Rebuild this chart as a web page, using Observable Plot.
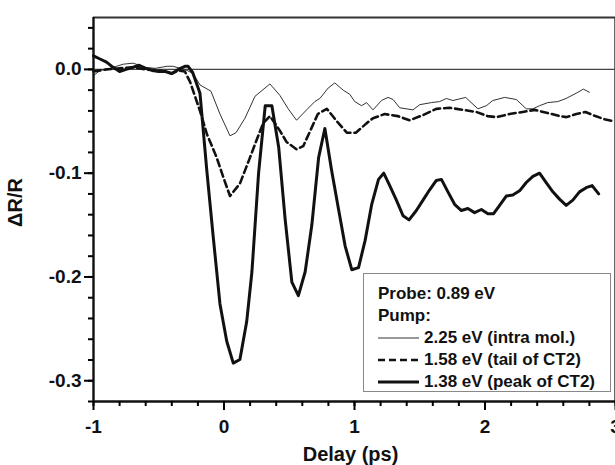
<!DOCTYPE html>
<html>
<head>
<meta charset="utf-8">
<script src="https://cdn.jsdelivr.net/npm/d3@7"></script>
<script src="https://cdn.jsdelivr.net/npm/@observablehq/plot@0.6"></script>
<style>
  html, body { margin: 0; padding: 0; background: #fff; }
  #wrap { position: relative; width: 615px; height: 465px; overflow: hidden; font-family: "Liberation Sans", Arial, sans-serif; }
  #legend { position: absolute; left: 363px; top: 273px; width: 246px; height: 117px; border: 1px solid #888; background: #fff;
            font-weight: bold; font-size: 17px; color: #111; padding: 0; box-sizing: content-box; }
  .row { position: absolute; left: 14px; height: 22px; line-height: 22px; white-space: nowrap; display: flex; align-items: center; }
  .row svg { margin-right: 5px; }
</style>
</head>
<body>
<div id="wrap"></div>
<script>
// ---- data ----
const thinDelay = [-1.0,-0.95,-0.872,-0.773,-0.696,-0.604,-0.528,-0.436,-0.39,-0.337,-0.283,-0.237,-0.184,-0.10,-0.031,0.046,0.092,0.161,0.237,0.352,0.428,0.492,0.556,0.633,0.696,0.735,0.798,0.849,0.913,0.964,1.002,1.054,1.092,1.142,1.207,1.257,1.295,1.347,1.448,1.50,1.589,1.653,1.704,1.754,1.852,1.946,2.01,2.06,2.15,2.24,2.316,2.367,2.418,2.481,2.558,2.622,2.698,2.754,2.80];
const thinValue = [-0.006,-0.001,0.001,0.005,0.006,0.002,0.001,0.003,0.003,0.001,-0.001,-0.004,-0.015,-0.021,-0.043,-0.064,-0.061,-0.047,-0.026,-0.014,-0.025,-0.038,-0.049,-0.039,-0.031,-0.028,-0.018,-0.013,-0.020,-0.024,-0.031,-0.035,-0.032,-0.039,-0.030,-0.027,-0.029,-0.037,-0.039,-0.034,-0.032,-0.031,-0.028,-0.030,-0.027,-0.038,-0.035,-0.030,-0.027,-0.029,-0.038,-0.038,-0.035,-0.032,-0.031,-0.028,-0.023,-0.019,-0.022];

const dashedDelay = [-1.0,-0.9,-0.8,-0.7,-0.6,-0.5,-0.45,-0.4,-0.35,-0.3,-0.26,-0.184,-0.132,-0.056,-0.005,0.046,0.122,0.199,0.25,0.30,0.352,0.428,0.48,0.556,0.607,0.658,0.719,0.788,0.865,0.941,1.01,1.092,1.142,1.232,1.331,1.423,1.525,1.627,1.729,1.831,1.933,2.02,2.089,2.188,2.29,2.38,2.479,2.571,2.624,2.70,2.77,2.846,2.915,2.984];
const dashedValue = [-0.002,0.0,0.001,0.002,0.0,-0.001,-0.002,-0.004,-0.001,-0.002,-0.012,-0.04,-0.062,-0.085,-0.104,-0.122,-0.110,-0.085,-0.068,-0.052,-0.045,-0.059,-0.070,-0.077,-0.074,-0.06,-0.043,-0.038,-0.050,-0.061,-0.061,-0.052,-0.047,-0.043,-0.045,-0.049,-0.044,-0.038,-0.037,-0.039,-0.041,-0.045,-0.046,-0.043,-0.041,-0.039,-0.042,-0.045,-0.046,-0.043,-0.041,-0.045,-0.048,-0.050];

const thickDelay = [-1.00,-0.95,-0.90,-0.85,-0.80,-0.75,-0.70,-0.65,-0.60,-0.55,-0.50,-0.45,-0.40,-0.35,-0.30,-0.275,-0.24,-0.184,-0.132,-0.082,-0.031,0.021,0.071,0.122,0.174,0.214,0.265,0.316,0.367,0.419,0.469,0.52,0.57,0.622,0.673,0.725,0.773,0.824,0.878,0.928,0.979,1.031,1.081,1.132,1.184,1.224,1.27,1.321,1.372,1.418,1.474,1.525,1.576,1.627,1.666,1.716,1.767,1.819,1.869,1.92,1.972,2.022,2.066,2.112,2.163,2.213,2.265,2.316,2.367,2.418,2.469,2.52,2.571,2.622,2.673,2.724,2.775,2.821,2.871];
const thickValue = [0.013,0.010,0.007,0.002,-0.002,0.000,0.002,0.004,0.001,-0.001,-0.002,-0.002,-0.004,0.000,0.003,0.003,-0.003,-0.023,-0.097,-0.162,-0.226,-0.262,-0.283,-0.2795,-0.243,-0.195,-0.10,-0.035,-0.035,-0.075,-0.145,-0.205,-0.218,-0.195,-0.15,-0.085,-0.057,-0.097,-0.135,-0.17,-0.193,-0.191,-0.165,-0.13,-0.106,-0.100,-0.112,-0.126,-0.141,-0.145,-0.136,-0.126,-0.116,-0.107,-0.106,-0.118,-0.130,-0.136,-0.134,-0.138,-0.135,-0.139,-0.139,-0.131,-0.122,-0.121,-0.117,-0.109,-0.103,-0.100,-0.109,-0.118,-0.125,-0.131,-0.126,-0.118,-0.114,-0.112,-0.120];

const xMajorTicks = [-1, 0, 1, 2, 3];
const yMajorTicks = [0, -0.1, -0.2, -0.3];
const xLabel = "Delay (ps)";
const yLabel = "ΔR/R";
const legendTitle = ["Probe: 0.89 eV", "Pump:"];
const seriesNames = ["2.25 eV (intra mol.)", "1.58 eV (tail of CT2)", "1.38 eV (peak of CT2)"];

// ---- build tables ----
const toRows = (xs, ys) => xs.map((x, i) => ({delay: x, value: ys[i]}));
const thin = toRows(thinDelay, thinValue);
const dashed = toRows(dashedDelay, dashedValue);
const thick = toRows(thickDelay, thickValue);

const xDomain = [-1, 3];
const yDomain = [-0.32, 0.05];
const xMinor = d3.range(-5, 16).map(i => +(i * 0.2).toFixed(2));
const yMinor = d3.range(-16, 3).map(i => +(i * 0.02).toFixed(2));

const layout = {width: 615, height: 465, marginLeft: 93, marginRight: 0, marginTop: 17, marginBottom: 64};
const tickFont = {fontSize: 19, fontWeight: "bold", fill: "#111"};
const tickStyle = {stroke: "#000", strokeWidth: 2};

const chart = Plot.plot({
  ...layout,
  style: {fontFamily: "'Liberation Sans', Arial, sans-serif"},
  x: {domain: xDomain, label: null, axis: null},
  y: {domain: yDomain, label: null, axis: null},
  marks: [
    Plot.frame({stroke: "#666", strokeWidth: 1, insetRight: 1}),
    Plot.ruleY([yDomain[1]], {stroke: "#333", strokeWidth: 1.8}),
    Plot.ruleY([0], {stroke: "#444", strokeWidth: 1.2}),
    Plot.line(thin, {x: "delay", y: "value", stroke: "#333", strokeWidth: 1}),
    Plot.line(dashed, {x: "delay", y: "value", stroke: "#111", strokeWidth: 2.6, strokeDasharray: "7,4"}),
    Plot.line(thick, {x: "delay", y: "value", stroke: "#111", strokeWidth: 3, strokeLinejoin: "round"}),
    // tick labels
    Plot.text(xMajorTicks, {x: d => d, frameAnchor: "bottom", dy: 25, text: d => String(d), lineAnchor: "middle", textAnchor: "middle", ...tickFont}),
    Plot.text(yMajorTicks, {y: d => d, frameAnchor: "left", dx: -12, text: d => d.toFixed(1), lineAnchor: "middle", textAnchor: "end", ...tickFont}),
    // axis titles
    Plot.text([yLabel], {frameAnchor: "left", dx: -78, dy: -7, rotate: -90, textAnchor: "middle", lineAnchor: "middle", fontSize: 20, fontWeight: "bold", fill: "#111"}),
    Plot.text([xLabel], {frameAnchor: "bottom", dx: -4, dy: 53, textAnchor: "middle", lineAnchor: "middle", fontSize: 20, fontWeight: "bold", fill: "#111"})
  ]
});

// overlay plot with the same scales: axis lines and tick marks
const axesLayer = Plot.plot({
  ...layout,
  style: {position: "absolute", left: "0px", top: "0px", background: "transparent", pointerEvents: "none"},
  x: {domain: xDomain, label: null, axis: null},
  y: {domain: yDomain, label: null, axis: null},
  marks: [
    Plot.ruleX([xDomain[0]], {stroke: "#111", strokeWidth: 2.4}),
    Plot.ruleY([yDomain[0]], {stroke: "#111", strokeWidth: 2.4}),
    Plot.ruleX(xMinor, {y1: yDomain[0], y2: yDomain[0], insetBottom: -5, ...tickStyle}),
    Plot.ruleX(xMajorTicks, {y1: yDomain[0], y2: yDomain[0], insetBottom: -9, ...tickStyle}),
    Plot.ruleY(yMinor, {x1: xDomain[0], x2: xDomain[0], insetLeft: -5, ...tickStyle}),
    Plot.ruleY(yMajorTicks, {x1: xDomain[0], x2: xDomain[0], insetLeft: -9, ...tickStyle})
  ]
});

const wrap = document.getElementById("wrap");
wrap.appendChild(chart);

// ---- legend (HTML overlay) ----
const legend = document.createElement("div");
legend.id = "legend";
const styles = [
  {w: 1, dash: null, c: "#333"},
  {w: 2.6, dash: "7,4", c: "#111"},
  {w: 3, dash: null, c: "#111"}
];
const rowsText = [legendTitle[0], legendTitle[1], ...seriesNames];
rowsText.forEach((t, i) => {
  const r = document.createElement("div");
  r.className = "row";
  r.style.top = (9 + i * 22) + "px";
  if (i >= 2) {
    const s = styles[i - 2];
    r.innerHTML = `<svg width="41" height="10"><line x1="0" x2="41" y1="5" y2="5" stroke="${s.c}" stroke-width="${s.w}" ${s.dash ? `stroke-dasharray="${s.dash}"` : ""}/></svg>`;
  }
  const span = document.createElement("span");
  span.textContent = t;
  r.appendChild(span);
  legend.appendChild(r);
});
wrap.appendChild(legend);
wrap.appendChild(axesLayer);
</script>
</body>
</html>
